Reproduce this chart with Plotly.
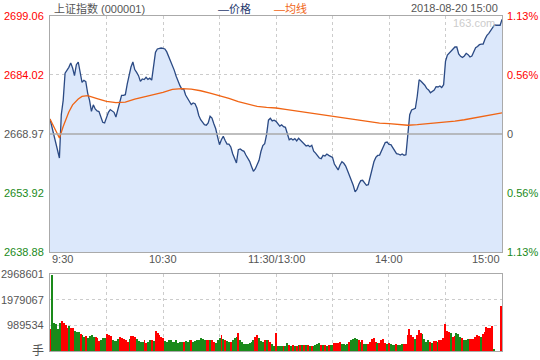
import plotly.graph_objects as go

# ---------------- data ----------------
prev_close = 2668.97
price_ticks = [2699.06, 2684.02, 2668.97, 2653.92, 2638.88]
pct_labels = ["1.13%", "0.56%", "0", "0.56%", "1.13%"]
vol_ticks = [2968601, 1979067, 989534]
vol_tick_labels = ["2968601", "1979067", "989534"]
time_ticks = [0, 60, 120, 180, 240]
time_labels = ["9:30", "10:30", "11:30/13:00", "14:00", "15:00"]
title_text = "上证指数 (000001)"
date_text = "2018-08-20 15:00"
legend_price = "—价格"
legend_avg = "—均线"
vol_unit = "手"
watermark = "163.com"

minutes = list(range(241))

price = [
    2672.80, 2670.76, 2668.63, 2666.59, 2664.55, 2662.85, 2673.90, 2677.55, 2684.50, 2685.20,
    2685.97, 2687.10, 2685.80, 2683.85, 2686.65, 2687.33, 2684.95, 2682.15, 2682.66, 2682.30,
    2679.40, 2677.55, 2674.75, 2676.40, 2675.35, 2674.84, 2674.70, 2673.50, 2671.95, 2671.80,
    2673.30, 2674.50, 2675.20, 2674.90, 2674.50, 2673.30, 2675.00, 2676.90, 2678.80, 2678.80,
    2679.00, 2681.70, 2684.10, 2686.05, 2687.33, 2685.40, 2684.70, 2683.85, 2682.40, 2683.00,
    2682.85, 2683.45, 2682.90, 2683.20, 2682.70, 2685.80, 2689.80, 2690.65, 2690.80, 2690.90,
    2690.80, 2690.65, 2689.90, 2688.80, 2687.75, 2686.60, 2685.20, 2683.70, 2682.25, 2681.30,
    2680.45, 2680.45, 2678.90, 2678.15, 2677.05, 2676.50, 2676.90, 2676.70, 2675.60, 2673.70,
    2672.60, 2671.95, 2671.35, 2671.20, 2671.80, 2673.50, 2673.05, 2671.60, 2670.30, 2668.20,
    2666.25, 2667.50, 2668.40, 2667.30, 2666.40, 2666.40, 2665.65, 2663.95, 2662.85, 2661.60,
    2664.97, 2665.15, 2664.80, 2664.55, 2663.60, 2662.80, 2662.00, 2660.70, 2659.45, 2660.05,
    2661.06, 2662.25, 2664.50, 2666.00, 2666.50, 2668.80, 2672.50, 2672.96, 2672.30, 2672.50,
    2672.20, 2671.70, 2671.00, 2671.30, 2670.84, 2670.67, 2669.14, 2667.50, 2667.80, 2667.44,
    2667.78, 2667.20, 2667.90, 2667.36, 2666.76, 2666.42, 2665.90, 2666.08, 2665.74, 2666.08,
    2664.60, 2664.10, 2663.60, 2662.85, 2662.68, 2663.53, 2663.36, 2663.87, 2663.53, 2663.19,
    2663.00, 2661.32, 2660.55, 2659.80, 2661.07, 2661.90, 2661.50, 2660.80, 2659.60, 2658.50,
    2657.40, 2655.90, 2654.20, 2654.86, 2656.14, 2657.07, 2657.16, 2656.56, 2655.88, 2656.05,
    2658.10, 2660.20, 2661.90, 2663.00, 2663.50, 2663.60, 2664.72, 2666.16, 2666.80, 2666.93,
    2666.33, 2666.25, 2665.40, 2664.55, 2663.95, 2663.87, 2663.60, 2663.87, 2663.53, 2663.70,
    2668.80, 2673.90, 2675.10, 2675.35, 2675.50, 2678.60, 2682.80, 2682.40, 2681.97, 2681.40,
    2680.60, 2680.20, 2679.50, 2679.85, 2680.20, 2681.04, 2680.96, 2681.20, 2680.80, 2681.55,
    2687.50, 2689.10, 2689.63, 2690.05, 2690.56, 2691.15, 2691.15, 2689.37, 2688.77, 2688.50,
    2688.86, 2689.54, 2689.20, 2688.60, 2688.86, 2689.88, 2690.98, 2691.30, 2691.75, 2691.90,
    2691.90, 2693.20, 2694.13, 2694.64, 2695.40, 2695.90, 2696.77, 2696.70, 2696.70, 2696.70,
    2698.20,
]

avg_minutes = [0, 5, 7, 10, 12, 15, 17, 20, 25, 30, 35, 40, 45, 50, 55, 60, 65, 70, 75, 80,
               85, 90, 95, 100, 105, 110, 115, 120, 125, 130, 135, 140, 145, 150, 155, 160,
               165, 170, 175, 180, 185, 190, 195, 200, 205, 210, 215, 220, 225, 230, 235, 240]
avg_price = [2672.80, 2667.95, 2670.90, 2674.60, 2676.40, 2677.90, 2678.55, 2678.75, 2678.00,
             2677.30, 2676.95, 2677.10, 2677.85, 2678.40, 2678.90, 2679.60, 2680.35, 2680.55,
             2680.40, 2680.00, 2679.40, 2678.80, 2678.05, 2677.25, 2676.60, 2676.00, 2675.75,
             2675.60, 2675.25, 2674.90, 2674.50, 2674.10, 2673.75, 2673.50, 2673.10, 2672.70,
             2672.30, 2671.95, 2671.75, 2671.60, 2671.40, 2671.20, 2671.35, 2671.55, 2671.75,
             2671.95, 2672.25, 2672.60, 2673.00, 2673.40, 2673.85, 2674.35]

volume = [
    848000, 2930000, 1090000, 1030000, 848000, 1080000, 1160000, 1070000, 990000, 874000,
    977000, 887000, 874000, 784000, 745000, 720000, 655000, 617000, 553000, 591000,
    514000, 578000, 630000, 553000, 527000, 488000, 398000, 437000, 488000, 488000,
    643000, 604000, 578000, 424000, 398000, 373000, 463000, 527000, 488000, 463000,
    437000, 360000, 475000, 565000, 565000, 527000, 450000, 373000, 360000, 360000,
    424000, 321000, 360000, 424000, 424000, 398000, 771000, 694000, 630000, 553000,
    488000, 398000, 360000, 424000, 424000, 360000, 360000, 424000, 321000, 360000,
    360000, 360000, 398000, 360000, 424000, 424000, 360000, 386000, 424000, 424000,
    514000, 450000, 424000, 424000, 424000, 424000, 424000, 360000, 321000, 424000,
    488000, 617000, 450000, 424000, 386000, 347000, 360000, 424000, 488000, 553000,
    681000, 424000, 360000, 270000, 270000, 270000, 296000, 360000, 424000, 553000,
    617000, 488000, 398000, 360000, 424000, 424000, 424000, 360000, 270000, 193000,
    707000, 193000, 193000, 193000, 193000, 193000, 321000, 218000, 193000, 218000,
    193000, 193000, 218000, 218000, 218000, 218000, 218000, 218000, 193000, 193000,
    193000, 218000, 270000, 296000, 218000, 218000, 218000, 193000, 218000, 218000,
    218000, 321000, 321000, 321000, 347000, 270000, 270000, 244000, 270000, 360000,
    424000, 475000, 514000, 475000, 424000, 360000, 424000, 270000, 270000, 270000,
    360000, 475000, 488000, 360000, 296000, 296000, 424000, 450000, 296000, 270000,
    296000, 270000, 231000, 231000, 257000, 231000, 231000, 270000, 270000, 270000,
    617000, 835000, 617000, 553000, 450000, 617000, 810000, 681000, 655000, 450000,
    360000, 424000, 360000, 296000, 398000, 398000, 360000, 424000, 424000, 488000,
    1040000, 784000, 745000, 681000, 553000, 578000, 681000, 643000, 553000, 488000,
    424000, 424000, 450000, 450000, 450000, 450000, 553000, 617000, 591000, 527000,
    655000, 745000, 912000, 900000, 874000, 964000, 90000, 0, 0, 0,
    1730000,
]

# R = up minute, G = down minute
vol_dir = list(
    "RGGGGGRRRR" "GRRGGGRGGR" "GGGGRRRGGG" "RRRGGGGRRR" "RRGRRRGGGG"
    "RRGGRGRRRR" "RGGGGGGGGG" "GRGGGRGGGG" "GGGRRGRRGG" "GRGRGGRGGG"
    "RGGGGGGGGR" "RGGGRGRRGG" "RGGGRGGRGR" "GRGRGRGRGR" "GGGGRGRGRG"
    "GRRRRGGGGR" "GGGGRGRGGR" "RRRRGRRRRG" "RGGGRGGGRR" "RRRRGRRRGG"
    "GGRGRRGRRR" "RRRGRRGGGR" "GGGRRRRRRG" "RRRRRRGRRR" "R"
)

# ---------------- style ----------------
FONT = "Liberation Sans, Arial, Noto Sans CJK SC, sans-serif"
FS = 11
GRAY_TXT = "#555555"
RED = "#ff0000"
GREEN = "#1a8a1a"
LINE_BLUE = "#2b4a84"
ORANGE = "#f06414"
FILL = "#dce8fb"
BORDER = "#aaaaaa"
GRID = "#cccccc"

W, H = 540, 360
x0p, x1p = 50 / W, 502 / W
price_dom = [(H - 252) / H, (H - 16) / H]
vol_dom = [(H - 351) / H, (H - 274) / H]

fig = go.Figure()

fig.add_trace(go.Scatter(
    x=minutes, y=price, mode="lines",
    line=dict(color=LINE_BLUE, width=1.3),
    fill="tozeroy", fillcolor=FILL,
    xaxis="x", yaxis="y", hoverinfo="skip",
))
fig.add_trace(go.Scatter(
    x=avg_minutes, y=avg_price, mode="lines",
    line=dict(color=ORANGE, width=1.3),
    xaxis="x", yaxis="y", hoverinfo="skip",
))
fig.add_trace(go.Bar(
    x=minutes, y=volume,
    marker=dict(color=[RED if d == "R" else GREEN for d in vol_dir], line=dict(width=0)),
    width=0.5,
    xaxis="x2", yaxis="y2", hoverinfo="skip",
))

grid_x = [30, 60, 90, 120, 150, 180, 210]
axis_common = dict(
    showline=True, mirror=True, linecolor=BORDER, linewidth=1,
    showgrid=True, gridcolor=GRID, griddash="3px,3px", gridwidth=1,
    zeroline=False, showticklabels=False, ticks="", fixedrange=True,
)

fig.update_layout(
    width=W, height=H,
    margin=dict(l=0, r=0, t=0, b=0),
    paper_bgcolor="white", plot_bgcolor="white",
    showlegend=False, bargap=0,
    font=dict(family=FONT, size=FS, color=GRAY_TXT),
    xaxis=dict(domain=[x0p, x1p], range=[0, 240], tickvals=grid_x, anchor="y", **axis_common),
    yaxis=dict(domain=price_dom, range=[price_ticks[-1], price_ticks[0]],
               tickvals=[price_ticks[1], price_ticks[3]], anchor="x", **axis_common),
    xaxis2=dict(domain=[x0p, x1p], range=[-0.3, 240.3], tickvals=grid_x, anchor="y2", **axis_common),
    yaxis2=dict(domain=vol_dom, range=[0, vol_ticks[0]],
                tickvals=vol_ticks[1:], anchor="x2", **axis_common),
)

# previous close line
fig.add_shape(type="line", xref="paper", x0=x0p, x1=x1p, yref="y",
              y0=prev_close, y1=prev_close, line=dict(color=BORDER, width=1.3), layer="above")

ann = []
label_colors = [RED, RED, GRAY_TXT, GREEN, GREEN]
for v, c, p in zip(price_ticks, label_colors, pct_labels):
    ann.append(dict(x=46 / W, xref="paper", y=v, yref="y", text=f"{v:.2f}",
                    xanchor="right", yanchor="middle", showarrow=False,
                    font=dict(color=c, size=FS)))
    ann.append(dict(x=505 / W, xref="paper", y=v, yref="y", text=p,
                    xanchor="left", yanchor="middle", showarrow=False,
                    font=dict(color=c, size=FS)))

for v, t in zip(vol_ticks, vol_tick_labels):
    ann.append(dict(x=46 / W, xref="paper", y=v, yref="y2", text=t,
                    xanchor="right", yanchor="middle", showarrow=False,
                    font=dict(color=GRAY_TXT, size=FS)))
ann.append(dict(x=46 / W, xref="paper", y=0, yref="y2", text=vol_unit,
                xanchor="right", yanchor="middle", showarrow=False,
                font=dict(color=GRAY_TXT, size=12)))

for i, (m, t) in enumerate(zip(time_ticks, time_labels)):
    anchor = "left" if i == 0 else ("right" if i == len(time_ticks) - 1 else "center")
    ann.append(dict(x=m, xref="x", y=(H - 259) / H, yref="paper", text=t,
                    xanchor=anchor, yanchor="middle", showarrow=False,
                    font=dict(color=GRAY_TXT, size=FS)))

ann.append(dict(x=52 / W, xref="paper", y=(H - 8) / H, yref="paper", text=title_text,
                xanchor="left", yanchor="middle", showarrow=False,
                font=dict(color=GRAY_TXT, size=FS)))
ann.append(dict(x=216 / W, xref="paper", y=(H - 8) / H, yref="paper", text=legend_price,
                xanchor="left", yanchor="middle", showarrow=False,
                font=dict(color="#1f3a6e", size=FS)))
ann.append(dict(x=272 / W, xref="paper", y=(H - 8) / H, yref="paper", text=legend_avg,
                xanchor="left", yanchor="middle", showarrow=False,
                font=dict(color=ORANGE, size=FS)))
ann.append(dict(x=500 / W, xref="paper", y=(H - 8) / H, yref="paper", text=date_text,
                xanchor="right", yanchor="middle", showarrow=False,
                font=dict(color=GRAY_TXT, size=FS)))
ann.append(dict(x=497 / W, xref="paper", y=(H - 23) / H, yref="paper", text=watermark,
                xanchor="right", yanchor="middle", showarrow=False,
                font=dict(color="#cccccc", size=FS)))

fig.update_layout(annotations=ann)

fig.write_html("out.html")
